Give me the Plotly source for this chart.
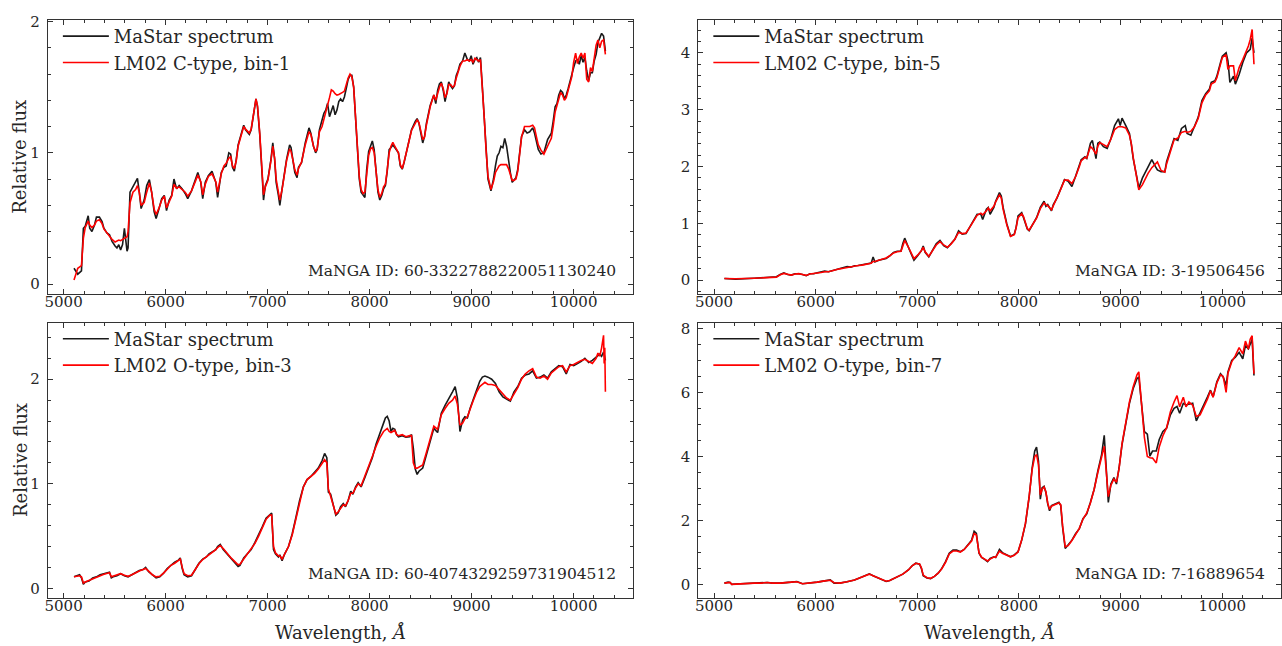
import plotly.graph_objects as go

# ---------------- spectra: wavelength (Angstrom) and relative flux ----------------
# Panel 1: C-type, bin-1
wave_c1 = [5102, 5139, 5175, 5194, 5212, 5241, 5256, 5278, 5303, 5322,
           5351, 5377, 5395, 5424, 5450, 5475, 5505, 5523, 5541, 5559,
           5578, 5596, 5622, 5632, 5651, 5680, 5706, 5724, 5742, 5760,
           5790, 5815, 5841, 5863, 5888, 5907, 5936, 5962, 5987, 6009,
           6035, 6060, 6082, 6108, 6133, 6163, 6192, 6217, 6254, 6291,
           6316, 6345, 6364, 6389, 6419, 6455, 6492, 6510, 6546, 6572,
           6594, 6620, 6638, 6656, 6674, 6693, 6711, 6729, 6766, 6784,
           6821, 6839, 6865, 6886, 6901, 6923, 6949, 6960, 6978, 7003,
           7033, 7051, 7069, 7084, 7106, 7120, 7142, 7168, 7186, 7216,
           7230, 7252, 7267, 7289, 7303, 7333, 7369, 7406, 7424, 7450,
           7471, 7486, 7508, 7534, 7552, 7570, 7588, 7607, 7625, 7643,
           7662, 7680, 7698, 7716, 7735, 7753, 7771, 7790, 7808, 7826,
           7844, 7863, 7881, 7899, 7917, 7936, 7954, 7972, 7991, 8009,
           8027, 8045, 8064, 8082, 8100, 8119, 8137, 8155, 8173, 8192,
           8210, 8228, 8247, 8283, 8301, 8320, 8338, 8356, 8375, 8411,
           8448, 8466, 8484, 8502, 8521, 8539, 8557, 8594, 8612, 8630,
           8649, 8667, 8685, 8703, 8722, 8740, 8758, 8776, 8795, 8813,
           8831, 8850, 8868, 8886, 8912, 8934, 8959, 8978, 8996, 9014,
           9033, 9051, 9069, 9087, 9106, 9124, 9142, 9161, 9190, 9215,
           9234, 9252, 9270, 9288, 9307, 9325, 9343, 9362, 9380, 9398,
           9416, 9435, 9453, 9471, 9490, 9519, 9544, 9570, 9599, 9617,
           9636, 9654, 9680, 9709, 9745, 9782, 9800, 9819, 9837, 9855,
           9873, 9892, 9910, 9928, 9947, 9965, 9983, 10001, 10020, 10038,
           10056, 10075, 10093, 10111, 10129, 10148, 10166, 10184, 10202, 10221,
           10239, 10257, 10275, 10294, 10312]
mastar_c1 = [0.12, 0.075, 0.10, 0.425, 0.44, 0.52, 0.425, 0.40, 0.45, 0.51,
             0.51, 0.475, 0.425, 0.39, 0.375, 0.325, 0.29, 0.275, 0.30, 0.26,
             0.30, 0.425, 0.25, 0.275, 0.70, 0.74, 0.775, 0.805, 0.70, 0.575,
             0.64, 0.75, 0.795, 0.70, 0.55, 0.50, 0.575, 0.65, 0.675, 0.56,
             0.64, 0.675, 0.80, 0.725, 0.75, 0.725, 0.69, 0.65, 0.71, 0.80,
             0.85, 0.775, 0.65, 0.775, 0.825, 0.86, 0.775, 0.66, 0.85, 0.89,
             0.90, 1.00, 0.99, 0.89, 0.86, 0.95, 1.06, 1.11, 1.21, 1.175,
             1.14, 1.175, 1.325, 1.41, 1.35, 1.14, 0.80, 0.64, 0.75, 0.80,
             0.95, 1.075, 0.95, 0.775, 0.675, 0.60, 0.725, 0.875, 0.95, 1.06,
             1.04, 0.925, 0.85, 0.81, 0.89, 0.925, 1.075, 1.19, 1.15, 1.05,
             1.00, 1.025, 1.175, 1.25, 1.30, 1.325, 1.375, 1.275, 1.325, 1.36,
             1.29, 1.325, 1.39, 1.41, 1.39, 1.425, 1.49, 1.56, 1.59, 1.59,
             1.50, 1.25, 1.00, 0.80, 0.70, 0.675, 0.66, 0.875, 1.01, 1.05,
             1.09, 1.025, 0.85, 0.70, 0.64, 0.675, 0.725, 0.75, 0.86, 1.025,
             1.04, 1.06, 1.04, 1.00, 0.90, 0.875, 0.925, 0.99, 1.06, 1.175,
             1.24, 1.26, 1.225, 1.15, 1.075, 1.125, 1.225, 1.36, 1.41, 1.44,
             1.375, 1.475, 1.525, 1.54, 1.475, 1.39, 1.46, 1.54, 1.51, 1.49,
             1.51, 1.59, 1.625, 1.675, 1.70, 1.76, 1.71, 1.70, 1.74, 1.675,
             1.71, 1.725, 1.69, 1.725, 1.50, 1.25, 1.00, 0.80, 0.71, 0.80,
             0.90, 0.975, 1.00, 1.05, 1.04, 1.11, 1.05, 0.925, 0.85, 0.775,
             0.79, 0.81, 0.875, 1.00, 1.125, 1.175, 1.15, 1.16, 1.19, 1.15,
             1.075, 1.025, 0.99, 1.00, 1.10, 1.15, 1.24, 1.35, 1.375, 1.44,
             1.475, 1.46, 1.41, 1.44, 1.49, 1.55, 1.59, 1.65, 1.70, 1.71,
             1.675, 1.74, 1.69, 1.725, 1.625, 1.55, 1.61, 1.61, 1.70, 1.75,
             1.84, 1.875, 1.91, 1.89, 1.775]
lm02_c1 = [0.03, 0.12, 0.14, 0.35, 0.43, 0.48, 0.45, 0.43, 0.45, 0.48,
           0.49, 0.46, 0.42, 0.39, 0.37, 0.34, 0.32, 0.33, 0.335, 0.33,
           0.34, 0.35, 0.36, 0.40, 0.62, 0.70, 0.72, 0.75, 0.70, 0.60,
           0.62, 0.70, 0.77, 0.70, 0.57, 0.53, 0.58, 0.64, 0.67, 0.58,
           0.63, 0.67, 0.76, 0.73, 0.74, 0.72, 0.70, 0.67, 0.71, 0.78,
           0.83, 0.78, 0.68, 0.76, 0.82, 0.84, 0.78, 0.70, 0.84, 0.90,
           0.92, 0.96, 0.97, 0.90, 0.88, 0.94, 1.05, 1.10, 1.20, 1.18,
           1.15, 1.18, 1.33, 1.41, 1.36, 1.15, 0.82, 0.68, 0.74, 0.79,
           0.94, 1.05, 0.96, 0.80, 0.70, 0.64, 0.72, 0.86, 0.94, 1.03,
           1.01, 0.93, 0.87, 0.83, 0.88, 0.93, 1.06, 1.16, 1.14, 1.05,
           1.01, 1.03, 1.16, 1.20, 1.25, 1.30, 1.36, 1.42, 1.48, 1.47,
           1.45, 1.44, 1.445, 1.45, 1.46, 1.47, 1.52, 1.57, 1.60, 1.58,
           1.50, 1.26, 1.02, 0.82, 0.72, 0.69, 0.70, 0.86, 0.98, 1.03,
           1.04, 1.00, 0.86, 0.72, 0.66, 0.69, 0.74, 0.76, 0.87, 1.00,
           1.05, 1.08, 1.05, 1.00, 0.91, 0.88, 0.93, 0.98, 1.05, 1.17,
           1.23, 1.25, 1.23, 1.16, 1.10, 1.12, 1.21, 1.35, 1.40, 1.44,
           1.40, 1.46, 1.50, 1.53, 1.49, 1.42, 1.45, 1.52, 1.52, 1.50,
           1.51, 1.57, 1.62, 1.66, 1.70, 1.70, 1.71, 1.70, 1.71, 1.69,
           1.72, 1.71, 1.70, 1.71, 1.52, 1.27, 1.02, 0.82, 0.72, 0.78,
           0.85, 0.88, 0.90, 0.91, 0.91, 0.91, 0.91, 0.88, 0.83, 0.79,
           0.79, 0.80, 0.86, 0.98, 1.12, 1.20, 1.20, 1.20, 1.21, 1.19,
           1.12, 1.06, 1.02, 0.99, 1.05, 1.11, 1.20, 1.31, 1.36, 1.42,
           1.46, 1.44, 1.40, 1.42, 1.47, 1.53, 1.58, 1.69, 1.76, 1.68,
           1.73, 1.76, 1.72, 1.76, 1.56, 1.54, 1.65, 1.62, 1.72, 1.82,
           1.86, 1.80, 1.85, 1.86, 1.75]

# Panel 2: C-type, bin-5
wave_c5 = [5102, 5212, 5395, 5578, 5614, 5651, 5687, 5724, 5760, 5797,
           5834, 5870, 5907, 5943, 5980, 6016, 6053, 6089, 6126, 6163,
           6199, 6236, 6272, 6309, 6345, 6382, 6419, 6455, 6492, 6528,
           6546, 6565, 6583, 6620, 6656, 6693, 6729, 6766, 6802, 6839,
           6857, 6876, 6912, 6949, 6967, 7003, 7040, 7058, 7077, 7113,
           7150, 7186, 7223, 7259, 7296, 7333, 7369, 7406, 7442, 7479,
           7515, 7552, 7588, 7625, 7643, 7680, 7698, 7716, 7753, 7771,
           7808, 7826, 7844, 7881, 7917, 7954, 7972, 7991, 8027, 8045,
           8082, 8100, 8137, 8173, 8210, 8247, 8265, 8283, 8320, 8338,
           8375, 8411, 8448, 8484, 8521, 8557, 8594, 8612, 8649, 8667,
           8703, 8722, 8758, 8776, 8795, 8831, 8868, 8904, 8941, 8978,
           8996, 9014, 9051, 9087, 9106, 9124, 9161, 9179, 9215, 9252,
           9270, 9307, 9343, 9362, 9398, 9435, 9453, 9490, 9526, 9563,
           9599, 9636, 9654, 9691, 9727, 9764, 9800, 9837, 9873, 9892,
           9928, 9947, 9983, 10001, 10038, 10056, 10075, 10111, 10129, 10166,
           10202, 10239, 10257, 10275, 10294, 10312]
mastar_c5 = [0.03, 0.02, 0.035, 0.045, 0.06, 0.10, 0.13, 0.10, 0.09, 0.115,
             0.115, 0.10, 0.08, 0.115, 0.115, 0.13, 0.14, 0.16, 0.15, 0.17,
             0.19, 0.21, 0.22, 0.24, 0.23, 0.255, 0.26, 0.27, 0.28, 0.29,
             0.30, 0.41, 0.32, 0.35, 0.36, 0.38, 0.43, 0.49, 0.51, 0.51,
             0.64, 0.74, 0.58, 0.41, 0.35, 0.43, 0.52, 0.60, 0.49, 0.41,
             0.52, 0.64, 0.70, 0.61, 0.57, 0.64, 0.72, 0.87, 0.81, 0.82,
             0.93, 1.04, 1.16, 1.16, 1.07, 1.25, 1.28, 1.16, 1.28, 1.39,
             1.54, 1.48, 1.28, 0.99, 0.78, 0.81, 0.93, 1.13, 1.19, 1.10,
             0.90, 0.87, 0.99, 1.10, 1.28, 1.39, 1.30, 1.33, 1.22, 1.33,
             1.45, 1.62, 1.77, 1.74, 1.65, 1.83, 2.03, 2.12, 2.17, 2.14,
             2.41, 2.46, 2.14, 2.41, 2.43, 2.35, 2.32, 2.49, 2.72, 2.84,
             2.72, 2.85, 2.72, 2.58, 2.38, 2.14, 1.80, 1.62, 1.80, 1.94,
             2.00, 2.12, 2.00, 1.94, 1.91, 1.91, 2.09, 2.29, 2.49, 2.46,
             2.67, 2.72, 2.58, 2.55, 2.72, 2.87, 3.16, 3.28, 3.36, 3.48,
             3.51, 3.59, 3.83, 3.94, 4.00, 3.86, 3.48, 3.59, 3.45, 3.62,
             3.83, 4.00, 4.03, 4.06, 4.26, 4.00]
lm02_c5 = [0.03, 0.025, 0.035, 0.045, 0.055, 0.095, 0.12, 0.105, 0.09, 0.11,
           0.115, 0.10, 0.085, 0.11, 0.115, 0.125, 0.135, 0.15, 0.15, 0.165,
           0.185, 0.20, 0.21, 0.225, 0.23, 0.25, 0.26, 0.265, 0.28, 0.29,
           0.30, 0.33, 0.33, 0.35, 0.37, 0.39, 0.43, 0.48, 0.50, 0.51,
           0.60, 0.70, 0.58, 0.43, 0.38, 0.44, 0.52, 0.58, 0.50, 0.42,
           0.51, 0.62, 0.68, 0.62, 0.58, 0.64, 0.72, 0.84, 0.82, 0.83,
           0.93, 1.05, 1.14, 1.18, 1.15, 1.22, 1.27, 1.22, 1.30, 1.38,
           1.50, 1.45, 1.25, 0.97, 0.77, 0.80, 0.92, 1.10, 1.17, 1.12,
           0.91, 0.88, 0.99, 1.09, 1.26, 1.36, 1.33, 1.31, 1.24, 1.31,
           1.44, 1.60, 1.76, 1.76, 1.70, 1.82, 2.00, 2.10, 2.16, 2.15,
           2.35, 2.32, 2.22, 2.36, 2.42, 2.38, 2.35, 2.48, 2.65, 2.70,
           2.70, 2.70, 2.68, 2.55, 2.40, 2.16, 1.78, 1.59, 1.68, 1.82,
           1.88, 1.98, 2.05, 2.08, 1.93, 1.90, 2.05, 2.27, 2.47, 2.50,
           2.60, 2.62, 2.60, 2.62, 2.70, 2.85, 3.12, 3.26, 3.33, 3.45,
           3.49, 3.56, 3.80, 3.92, 3.97, 3.71, 3.77, 3.77, 3.51, 3.74,
           3.88, 4.03, 4.12, 4.23, 4.41, 3.80]

# Panel 3: O-type, bin-3
wave_o3 = [5102, 5139, 5157, 5175, 5194, 5212, 5249, 5285, 5322, 5358,
           5395, 5431, 5450, 5468, 5486, 5523, 5559, 5596, 5632, 5669,
           5706, 5742, 5779, 5804, 5834, 5870, 5907, 5943, 5980, 6016,
           6053, 6089, 6126, 6144, 6163, 6181, 6217, 6254, 6291, 6327,
           6364, 6400, 6426, 6455, 6492, 6510, 6536, 6565, 6601, 6638,
           6674, 6711, 6729, 6766, 6802, 6839, 6876, 6912, 6949, 6985,
           7022, 7040, 7058, 7077, 7106, 7120, 7142, 7168, 7205, 7241,
           7278, 7314, 7351, 7387, 7424, 7461, 7497, 7534, 7559, 7581,
           7596, 7618, 7643, 7669, 7691, 7716, 7742, 7764, 7790, 7815,
           7837, 7863, 7888, 7917, 7954, 7991, 8027, 8064, 8100, 8137,
           8155, 8173, 8192, 8210, 8228, 8247, 8265, 8283, 8320, 8356,
           8393, 8411, 8429, 8448, 8466, 8484, 8521, 8557, 8594, 8630,
           8667, 8703, 8740, 8776, 8813, 8839, 8861, 8886, 8912, 8934,
           8959, 8985, 9014, 9051, 9080, 9106, 9131, 9161, 9197, 9234,
           9270, 9307, 9343, 9380, 9416, 9453, 9490, 9526, 9563, 9599,
           9636, 9672, 9709, 9745, 9782, 9819, 9855, 9892, 9928, 9965,
           10001, 10038, 10075, 10111, 10148, 10184, 10221, 10239, 10257, 10275,
           10294, 10300, 10306, 10312]
mastar_o3 = [0.11, 0.12, 0.13, 0.10, 0.04, 0.06, 0.07, 0.10, 0.11, 0.13,
             0.14, 0.15, 0.155, 0.10, 0.11, 0.12, 0.14, 0.12, 0.11, 0.13,
             0.15, 0.17, 0.18, 0.20, 0.16, 0.13, 0.10, 0.11, 0.145, 0.19,
             0.22, 0.25, 0.27, 0.29, 0.19, 0.13, 0.11, 0.12, 0.18, 0.24,
             0.28, 0.30, 0.33, 0.35, 0.37, 0.40, 0.42, 0.37, 0.33, 0.29,
             0.25, 0.21, 0.22, 0.29, 0.33, 0.37, 0.44, 0.51, 0.59, 0.67,
             0.71, 0.72, 0.37, 0.33, 0.30, 0.32, 0.265, 0.33, 0.40, 0.52,
             0.68, 0.84, 0.97, 1.04, 1.07, 1.11, 1.15, 1.22, 1.29, 1.25,
             0.92, 0.90, 0.81, 0.70, 0.72, 0.78, 0.81, 0.78, 0.84, 0.93,
             0.90, 0.97, 1.01, 0.97, 1.06, 1.15, 1.25, 1.38, 1.47, 1.58,
             1.63, 1.645, 1.60, 1.50, 1.53, 1.52, 1.47, 1.45, 1.46, 1.445,
             1.45, 1.47, 1.34, 1.14, 1.09, 1.12, 1.15, 1.28, 1.41, 1.53,
             1.49, 1.675, 1.75, 1.81, 1.88, 1.93, 1.82, 1.50, 1.61, 1.64,
             1.63, 1.72, 1.80, 1.91, 1.98, 2.02, 2.03, 2.02, 2.00, 1.96,
             1.88, 1.83, 1.81, 1.79, 1.88, 1.93, 2.01, 2.04, 2.05, 2.08,
             2.01, 2.02, 2.04, 2.01, 2.07, 2.10, 2.13, 2.12, 2.05, 2.14,
             2.13, 2.15, 2.17, 2.20, 2.16, 2.18, 2.21, 2.22, 2.24, 2.22,
             2.26, 2.24, 2.22, 2.18]
lm02_o3 = [0.11, 0.115, 0.12, 0.11, 0.05, 0.06, 0.075, 0.095, 0.11, 0.125,
           0.135, 0.145, 0.15, 0.11, 0.115, 0.125, 0.14, 0.125, 0.115, 0.13,
           0.15, 0.165, 0.18, 0.19, 0.165, 0.13, 0.11, 0.115, 0.145, 0.185,
           0.22, 0.24, 0.265, 0.28, 0.20, 0.14, 0.12, 0.125, 0.18, 0.235,
           0.275, 0.30, 0.32, 0.345, 0.37, 0.39, 0.41, 0.38, 0.335, 0.295,
           0.26, 0.225, 0.23, 0.28, 0.33, 0.37, 0.43, 0.50, 0.58, 0.66,
           0.70, 0.70, 0.40, 0.34, 0.31, 0.31, 0.28, 0.33, 0.40, 0.51,
           0.67, 0.83, 0.97, 1.04, 1.07, 1.10, 1.14, 1.19, 1.23, 1.20,
           0.95, 0.88, 0.80, 0.71, 0.73, 0.77, 0.80, 0.79, 0.84, 0.91,
           0.91, 0.96, 1.00, 0.98, 1.07, 1.17, 1.26, 1.36, 1.44, 1.50,
           1.52, 1.53, 1.50, 1.49, 1.50, 1.51, 1.47, 1.46, 1.47, 1.45,
           1.46, 1.46, 1.20, 1.15, 1.15, 1.16, 1.18, 1.30, 1.43, 1.55,
           1.52, 1.66, 1.72, 1.77, 1.80, 1.84, 1.76, 1.56, 1.58, 1.62,
           1.64, 1.72, 1.79, 1.88, 1.93, 1.95, 1.97, 1.95, 1.95, 1.94,
           1.90, 1.86, 1.82, 1.80, 1.86, 1.92, 2.00, 2.05, 2.08, 2.10,
           2.02, 2.01, 2.03, 2.00, 2.06, 2.09, 2.12, 2.13, 2.07, 2.13,
           2.14, 2.16, 2.18, 2.19, 2.17, 2.15, 2.20, 2.25, 2.22, 2.30,
           2.42, 2.15, 2.30, 1.88]

# Panel 4: O-type, bin-7
wave_o7 = [5102, 5139, 5157, 5175, 5212, 5285, 5395, 5468, 5523, 5578,
           5651, 5760, 5815, 5870, 5943, 6016, 6089, 6144, 6181, 6236,
           6309, 6382, 6455, 6528, 6565, 6638, 6693, 6729, 6784, 6857,
           6912, 6949, 6985, 7022, 7040, 7058, 7095, 7131, 7168, 7205,
           7241, 7278, 7314, 7351, 7387, 7424, 7461, 7497, 7534, 7559,
           7581, 7607, 7632, 7662, 7691, 7716, 7753, 7771, 7808, 7837,
           7874, 7917, 7954, 7991, 8027, 8064, 8100, 8130, 8155, 8173,
           8192, 8210, 8228, 8247, 8265, 8283, 8301, 8320, 8356, 8393,
           8411, 8429, 8455, 8484, 8521, 8557, 8594, 8630, 8667, 8703,
           8740, 8776, 8813, 8839, 8861, 8879, 8904, 8934, 8959, 8985,
           9014, 9051, 9087, 9124, 9161, 9179, 9197, 9234, 9263, 9288,
           9314, 9351, 9380, 9416, 9453, 9490, 9526, 9555, 9581, 9617,
           9643, 9672, 9709, 9745, 9782, 9819, 9855, 9884, 9910, 9947,
           9983, 10009, 10038, 10056, 10093, 10129, 10166, 10202, 10228, 10257,
           10275, 10294, 10312]
mastar_o7 = [0.05, 0.08, 0.07, 0.01, 0.02, 0.03, 0.05, 0.05, 0.07, 0.05,
             0.05, 0.08, 0.10, 0.03, 0.05, 0.08, 0.12, 0.15, 0.05, 0.05,
             0.09, 0.15, 0.24, 0.34, 0.28, 0.17, 0.10, 0.13, 0.21, 0.33,
             0.46, 0.59, 0.67, 0.64, 0.51, 0.28, 0.21, 0.19, 0.26, 0.36,
             0.51, 0.72, 0.98, 1.08, 1.08, 1.03, 1.10, 1.23, 1.39, 1.67,
             1.60, 0.98, 0.85, 0.79, 0.72, 0.82, 0.87, 0.85, 1.10, 1.00,
             0.93, 0.87, 0.93, 1.03, 1.39, 1.90, 2.73, 3.65, 4.17, 4.29,
             3.86, 2.67, 3.03, 3.07, 2.88, 2.52, 2.31, 2.47, 2.52, 2.57,
             2.47, 1.80, 1.13, 1.23, 1.39, 1.59, 1.75, 2.06, 2.21, 2.57,
             2.98, 3.55, 4.06, 4.66, 3.55, 2.57, 3.14, 3.34, 3.14, 3.65,
             4.37, 5.09, 5.66, 6.12, 6.43, 6.48, 5.86, 4.78, 4.70, 4.01,
             4.17, 4.17, 4.53, 4.78, 4.89, 5.30, 5.50, 5.56, 5.35, 5.66,
             5.61, 5.63, 5.66, 5.11, 5.35, 5.61, 5.86, 6.07, 5.86, 6.33,
             6.58, 6.48, 6.22, 6.64, 7.00, 7.10, 7.25, 7.05, 7.46, 7.36,
             7.51, 7.66, 6.53]
lm02_o7 = [0.05, 0.07, 0.07, 0.01, 0.02, 0.03, 0.05, 0.05, 0.07, 0.05,
           0.05, 0.08, 0.09, 0.03, 0.05, 0.08, 0.12, 0.14, 0.06, 0.05,
           0.09, 0.15, 0.24, 0.33, 0.28, 0.17, 0.11, 0.13, 0.21, 0.33,
           0.46, 0.59, 0.67, 0.65, 0.53, 0.30, 0.22, 0.20, 0.26, 0.36,
           0.50, 0.70, 0.96, 1.05, 1.05, 1.02, 1.10, 1.22, 1.36, 1.60,
           1.55, 1.00, 0.86, 0.80, 0.74, 0.80, 0.86, 0.86, 1.05, 0.98,
           0.92, 0.87, 0.92, 1.02, 1.40, 1.92, 2.75, 3.60, 4.00, 4.06,
           3.75, 2.80, 2.98, 3.05, 2.90, 2.55, 2.35, 2.45, 2.50, 2.55,
           2.50, 1.85, 1.18, 1.22, 1.38, 1.58, 1.76, 2.05, 2.24, 2.55,
           2.98, 3.50, 3.95, 4.32, 3.45, 2.75, 3.10, 3.30, 3.20, 3.62,
           4.40, 5.10, 5.70, 6.18, 6.55, 6.64, 5.95, 4.60, 4.00, 3.96,
           3.95, 3.80, 4.30, 4.65, 4.90, 5.40, 5.70, 5.90, 5.55, 5.85,
           5.55, 5.70, 5.60, 5.25, 5.30, 5.55, 5.80, 6.05, 5.85, 6.30,
           6.55, 6.50, 6.00, 6.60, 6.95, 7.15, 7.40, 7.20, 7.60, 7.35,
           7.66, 7.77, 6.58]

panels = [
    dict(wave=wave_c1, mastar=mastar_c1, model=lm02_c1,
         model_name="LM02 C-type, bin-1", manga_id="MaNGA ID: 60-3322788220051130240"),
    dict(wave=wave_c5, mastar=mastar_c5, model=lm02_c5,
         model_name="LM02 C-type, bin-5", manga_id="MaNGA ID: 3-19506456"),
    dict(wave=wave_o3, mastar=mastar_o3, model=lm02_o3,
         model_name="LM02 O-type, bin-3", manga_id="MaNGA ID: 60-4074329259731904512"),
    dict(wave=wave_o7, mastar=mastar_o7, model=lm02_o7,
         model_name="LM02 O-type, bin-7", manga_id="MaNGA ID: 7-16889654"),
]

# axis limits and tick spacing for each panel
y_ranges = [[-0.075, 2.013], [-0.24, 4.58], [-0.088, 2.542], [-0.40, 8.18]]
y_dticks = [1, 1, 1, 2]
y_minor = [0.2, 0.2, 0.2, 0.5]
x_range = [4846, 10578]

# ---------------- layout geometry ----------------
W, H = 1282, 646
col_px = [(45, 631), (697, 1281)]
row_px = [(13, 290), (319, 597)]

FONT = "DejaVu Serif"
TXT = "#262626"
AX = "#333333"

fig = go.Figure()
layout = dict(
    width=W, height=H,
    margin=dict(l=0, r=0, t=0, b=0),
    paper_bgcolor="white", plot_bgcolor="white",
    showlegend=True,
    font=dict(family=FONT, color=TXT),
)

annotations = []
for i, p in enumerate(panels):
    r, c = divmod(i, 2)
    n = "" if i == 0 else str(i + 1)
    xa, ya = "x" + n, "y" + n
    leg = "legend" + n
    x0, x1 = col_px[c]
    y0, y1 = row_px[r]
    xdom = [x0 / W, x1 / W]
    ydom = [1 - y1 / H, 1 - y0 / H]

    fig.add_trace(go.Scatter(x=p["wave"], y=p["mastar"], mode="lines",
                             name="MaStar spectrum", xaxis=xa, yaxis=ya,
                             line=dict(color="#1a1a1a", width=1.6), legend=leg))
    fig.add_trace(go.Scatter(x=p["wave"], y=p["model"], mode="lines",
                             name=p["model_name"], xaxis=xa, yaxis=ya,
                             line=dict(color="#ff0000", width=1.6), legend=leg))

    common = dict(showline=True, linecolor=AX, linewidth=1, mirror="allticks",
                  ticks="inside", ticklen=5, tickwidth=1, tickcolor=AX,
                  showgrid=False, zeroline=False,
                  tickfont=dict(family=FONT, size=15, color=TXT))
    layout["xaxis" + n] = dict(common, domain=xdom, range=x_range, anchor=ya,
                               tick0=0, dtick=1000, tickformat="d",
                               ticklabelstandoff=-6,
                               minor=dict(ticks="inside", ticklen=3, tickwidth=1,
                                          tickcolor=AX, dtick=200, tick0=0, showgrid=False))
    layout["yaxis" + n] = dict(common, domain=ydom, range=y_ranges[i], anchor=xa,
                               tick0=0, dtick=y_dticks[i], ticklabelstandoff=4,
                               minor=dict(ticks="inside", ticklen=3, tickwidth=1,
                                          tickcolor=AX, dtick=y_minor[i], tick0=0,
                                          showgrid=False))
    layout[leg] = dict(x=(x0 + 10) / W, y=1 - (y0 - 2) / H,
                       xanchor="left", yanchor="top",
                       bgcolor="rgba(0,0,0,0)", borderwidth=0,
                       font=dict(family=FONT, size=18, color=TXT),
                       itemwidth=46, tracegroupgap=0)

    annotations.append(dict(text=p["manga_id"], xref=xa + " domain", yref=ya + " domain",
                            x=0.976, y=0.045, xanchor="right", yanchor="bottom",
                            showarrow=False, font=dict(family=FONT, size=15.5, color=TXT)))

# axis titles
for r in range(2):
    y0, y1 = row_px[r]
    annotations.append(dict(text="Relative flux", xref="paper", yref="paper",
                            x=17 / W, y=1 - (y0 + y1) / 2 / H, textangle=-90,
                            xanchor="center", yanchor="middle", showarrow=False,
                            font=dict(family=FONT, size=18, color=TXT)))
for c in range(2):
    x0, x1 = col_px[c]
    annotations.append(dict(text="Wavelength, <i>Å</i>", xref="paper", yref="paper",
                            x=(x0 + x1) / 2 / W, y=1 - 632 / H,
                            xanchor="center", yanchor="middle", showarrow=False,
                            font=dict(family=FONT, size=18, color=TXT)))

layout["annotations"] = annotations
fig.update_layout(**layout)
fig.write_html("out.html")
